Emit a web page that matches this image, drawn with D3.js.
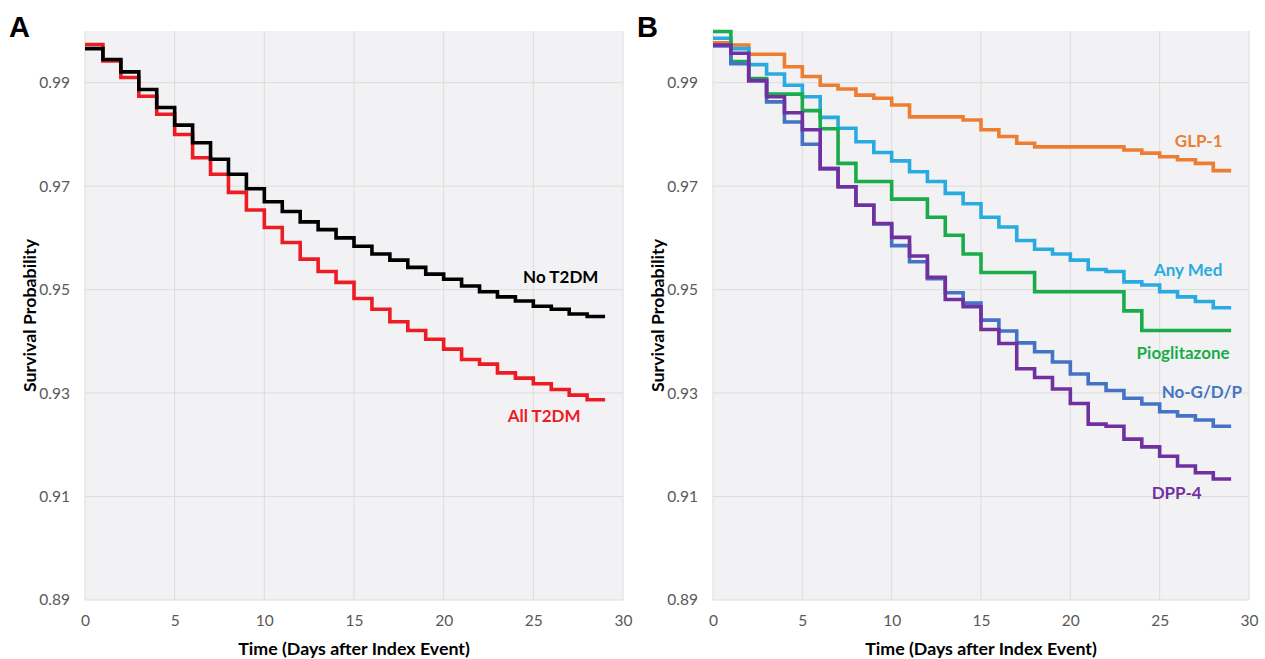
<!DOCTYPE html>
<html>
<head>
<meta charset="utf-8">
<script src="https://cdn.jsdelivr.net/npm/d3@7"></script>
<style>
  body { margin: 0; background: #fff; }
  svg { display: block; font-family: Lato, "Open Sans", sans-serif; }
</style>
</head>
<body>
<svg id="stage" width="1265" height="659"></svg>
<script>
// ---- data (survival probability per day interval, day 0..28, last step ends at day 29) ----
const days = d3.range(0, 29);
const lastDay = 29;

// panel A
const noT2DM  = [0.9966,0.9945,0.9921,0.9887,0.9852,0.9818,0.9784,0.9752,0.9723,0.9695,
                 0.9670,0.9651,0.9631,0.9616,0.9600,0.9584,0.9569,0.9557,0.9543,0.9530,
                 0.9520,0.9507,0.9496,0.9486,0.9478,0.9468,0.9462,0.9453,0.9448];
const allT2DM = [0.9974,0.9942,0.9910,0.9874,0.9839,0.9800,0.9755,0.9723,0.9688,0.9654,
                 0.9620,0.9591,0.9559,0.9535,0.9514,0.9483,0.9462,0.9438,0.9421,0.9404,
                 0.9385,0.9365,0.9356,0.9339,0.9329,0.9318,0.9307,0.9296,0.9287];

// panel B
const glp1   = [0.9977,0.9973,0.9955,0.9955,0.9931,0.9912,0.9895,0.9888,0.9876,0.9870,
                0.9857,0.9834,0.9834,0.9834,0.9828,0.9809,0.9796,0.9783,0.9776,0.9776,
                0.9776,0.9776,0.9776,0.9770,0.9764,0.9757,0.9751,0.9744,0.9730];
const anyMed = [0.9986,0.9966,0.9935,0.9917,0.9895,0.9873,0.9833,0.9812,0.9786,0.9765,
                0.9749,0.9728,0.9709,0.9686,0.9666,0.9640,0.9621,0.9595,0.9578,0.9569,
                0.9557,0.9539,0.9535,0.9515,0.9509,0.9496,0.9486,0.9477,0.9465];
const pio    = [0.9999,0.9941,0.9908,0.9878,0.9878,0.9846,0.9811,0.9744,0.9709,0.9709,
                0.9675,0.9675,0.9640,0.9605,0.9569,0.9533,0.9533,0.9533,0.9496,0.9496,
                0.9496,0.9496,0.9496,0.9459,0.9421,0.9421,0.9421,0.9421,0.9421];
const noGDP  = [0.9971,0.9937,0.9904,0.9863,0.9824,0.9781,0.9734,0.9699,0.9663,0.9627,
                0.9585,0.9554,0.9521,0.9494,0.9474,0.9441,0.9420,0.9397,0.9380,0.9360,
                0.9337,0.9318,0.9305,0.9290,0.9279,0.9264,0.9256,0.9248,0.9236];
const dpp4   = [0.9973,0.9957,0.9904,0.9873,0.9842,0.9809,0.9734,0.9699,0.9663,0.9628,
                0.9601,0.9565,0.9524,0.9481,0.9467,0.9423,0.9396,0.9347,0.9330,0.9308,
                0.9280,0.9240,0.9236,0.9211,0.9196,0.9178,0.9159,0.9146,0.9134];

const xTicks = [0,5,10,15,20,25,30];
const yTicks = [0.89,0.91,0.93,0.95,0.97,0.99];
const yTickLabels = ["0.89","0.91","0.93","0.95","0.97","0.99"];

// ---- series setup (label anchor in data units: day, survival) ----
const seriesA = [
  { name:"All T2DM", values:allT2DM, color:"#ed1c24", lx:23.57, ly:0.9245 },
  { name:"No T2DM",  values:noT2DM,  color:"#000000", lx:24.43, ly:0.9512 }
];
const seriesB = [
  { name:"GLP-1",        values:glp1,   color:"#ed7d31", lx:25.85, ly:0.9775 },
  { name:"Any Med",      values:anyMed, color:"#29abe2", lx:24.68, ly:0.9526 },
  { name:"Pioglitazone", values:pio,    color:"#1aac4a", lx:23.71, ly:0.9365 },
  { name:"No-G/D/P",     values:noGDP,  color:"#4472c4", lx:25.11, ly:0.9290 },
  { name:"DPP-4",        values:dpp4,   color:"#7030a0", lx:24.55, ly:0.9095 }
];

const svg = d3.select("#stage");
const TOP = 31, BOTTOM = 600;

function drawPanel(letter, left, right, series){
  const g = svg.append("g");
  const x = d3.scaleLinear().domain([0,30]).range([left,right]);
  const y = d3.scaleLinear().domain([0.89,1.0]).range([BOTTOM,TOP]);

  // plot background
  g.append("rect")
    .attr("x", left).attr("y", TOP)
    .attr("width", right-left).attr("height", BOTTOM-TOP)
    .attr("fill", "#f2f2f4");

  // grid
  g.selectAll(".hg").data(yTicks).join("line")
    .attr("x1", left).attr("x2", right)
    .attr("y1", d=>y(d)).attr("y2", d=>y(d))
    .attr("stroke", "#dcdcdc").attr("stroke-width", 1);
  g.selectAll(".vg").data(xTicks).join("line")
    .attr("x1", d=>x(d)).attr("x2", d=>x(d))
    .attr("y1", TOP).attr("y2", BOTTOM)
    .attr("stroke", "#dcdcdc").attr("stroke-width", 1);

  // axes (labels only)
  const ax = g.append("g").attr("transform", `translate(0,${BOTTOM})`)
    .call(d3.axisBottom(x).tickValues(xTicks).tickSize(0).tickPadding(15));
  const ay = g.append("g").attr("transform", `translate(${left},0)`)
    .call(d3.axisLeft(y).tickValues(yTicks).tickSize(0).tickPadding(15)
      .tickFormat((d,i)=>yTickLabels[i]));
  [ax, ay].forEach(a=>{
    a.select(".domain").remove();
    a.selectAll("text")
      .attr("fill", "#595959")
      .style("font-size", "15.5px")
      .style("font-family", "Lato, 'Open Sans', sans-serif");
  });

  // axis titles
  g.append("text")
    .attr("x", (left+right)/2).attr("y", 655)
    .attr("text-anchor", "middle")
    .attr("font-size", 17.8).attr("font-weight", "bold")
    .text("Time (Days after Index Event)");
  g.append("text")
    .attr("transform", `translate(${left-49},${(TOP+BOTTOM)/2}) rotate(-90)`)
    .attr("text-anchor", "middle")
    .attr("font-size", 17.8).attr("font-weight", "bold")
    .text("Survival Probability");

  // panel letter
  g.append("text")
    .attr("x", left-76).attr("y", 37)
    .attr("font-family", "Arial, 'Liberation Sans', sans-serif")
    .attr("font-size", 29).attr("font-weight", "bold")
    .text(letter);

  // step curves
  const line = d3.line()
    .x(d=>x(d[0])).y(d=>y(d[1]))
    .curve(d3.curveStepAfter);
  series.forEach(s=>{
    const pts = days.map((d,i)=>[d, s.values[i]]);
    pts.push([lastDay, s.values[s.values.length-1]]);
    g.append("path")
      .datum(pts)
      .attr("d", line)
      .attr("fill", "none")
      .attr("stroke", s.color)
      .attr("stroke-width", 3.6);
  });

  // curve labels
  series.forEach(s=>{
    g.append("text")
      .attr("x", x(s.lx)).attr("y", y(s.ly))
      .attr("fill", s.color)
      .attr("font-size", 17).attr("font-weight", "bold")
      .text(s.name);
  });
}

drawPanel("A", 85, 623, seriesA);
drawPanel("B", 713, 1249, seriesB);
</script>
</body>
</html>
